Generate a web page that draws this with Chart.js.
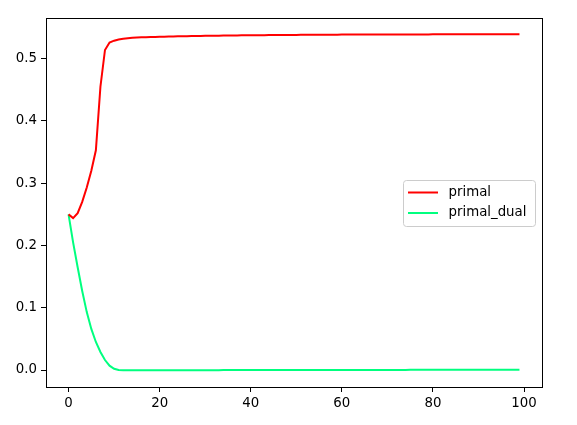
<!DOCTYPE html>
<html>
<head>
<meta charset="utf-8">
<script src="https://cdn.jsdelivr.net/npm/chart.js@4/dist/chart.umd.min.js"></script>
<style>
  body { margin: 0; background: #fff; }
  #wrap { width: 577px; height: 425px; }
</style>
</head>
<body>
<div id="wrap"><canvas id="chart" width="577" height="425"></canvas></div>
<script>
// values, one per step 0..99
const primal = [
    0.250, 0.244, 0.252, 0.270, 0.293, 0.320, 0.353, 0.455, 0.514, 0.526,
    0.529, 0.531, 0.532, 0.533, 0.5335, 0.5340, 0.5343, 0.5345, 0.5348, 0.5350,
    0.5352, 0.5354, 0.5356, 0.5357, 0.5359, 0.5360, 0.5362, 0.5363, 0.5364, 0.5365,
    0.5367, 0.5368, 0.5369, 0.5370, 0.5371, 0.5372, 0.5373, 0.5374, 0.5375, 0.5375,
    0.5376, 0.5377, 0.5378, 0.5378, 0.5379, 0.5380, 0.5380, 0.5381, 0.5381, 0.5382,
    0.5382, 0.5383, 0.5383, 0.5384, 0.5384, 0.5385, 0.5385, 0.5386, 0.5386, 0.5386,
    0.5387, 0.5387, 0.5387, 0.5388, 0.5388, 0.5388, 0.5389, 0.5389, 0.5389, 0.5389,
    0.5390, 0.5390, 0.5390, 0.5390, 0.5390, 0.5390, 0.5390, 0.5390, 0.5390, 0.5390,
    0.5391, 0.5391, 0.5391, 0.5391, 0.5391, 0.5391, 0.5391, 0.5391, 0.5391, 0.5391,
    0.5391, 0.5391, 0.5391, 0.5391, 0.5391, 0.5391, 0.5391, 0.5391, 0.5391, 0.5391
];
const primalDual = [
    0.250, 0.205, 0.165, 0.127, 0.093, 0.066, 0.045, 0.029, 0.016, 0.007,
    0.0020, 0.0000, -0.0004, -0.0004, -0.0004, -0.0004, -0.0004, -0.0004, -0.0004, -0.0004,
    -0.0004, -0.0004, -0.0003, -0.0003, -0.0003, -0.0003, -0.0003, -0.0003, -0.0002, -0.0002,
    -0.0002, -0.0002, -0.0002, -0.0002, -0.0001, -0.0001, -0.0001, -0.0001, -0.0001, -0.0001,
    -0.0001, -0.0001, -0.0001, 0.0000, 0.0000, 0.0000, 0.0000, 0.0000, 0.0000, 0.0000,
    0.0000, 0.0000, 0.0000, 0.0000, 0.0001, 0.0001, 0.0001, 0.0001, 0.0001, 0.0001,
    0.0001, 0.0001, 0.0001, 0.0001, 0.0002, 0.0002, 0.0002, 0.0002, 0.0002, 0.0002,
    0.0002, 0.0002, 0.0002, 0.0002, 0.0002, 0.0003, 0.0003, 0.0003, 0.0003, 0.0003,
    0.0003, 0.0003, 0.0003, 0.0003, 0.0003, 0.0004, 0.0004, 0.0004, 0.0004, 0.0004,
    0.0004, 0.0004, 0.0004, 0.0004, 0.0004, 0.0004, 0.0004, 0.0004, 0.0004, 0.0004
];
const seriesNames = ['primal', 'primal_dual'];
const xTicks = [0, 20, 40, 60, 80, 100];
const yTicks = [0.0, 0.1, 0.2, 0.3, 0.4, 0.5];

const steps = primal.map((_, i) => i);
const FONT = { family: 'DejaVu Sans', size: 13.33 };

// box around the axes, like matplotlib spines
const frame = {
    id: 'frame',
    afterDraw(chart) {
        const { ctx, chartArea: a } = chart;
        ctx.save();
        ctx.strokeStyle = '#000';
        ctx.lineWidth = 1;
        ctx.strokeRect(Math.round(a.left) + 0.5, Math.round(a.top) + 0.5,
            Math.round(a.right - a.left), Math.round(a.bottom - a.top));
        ctx.restore();
    }
};

// legend drawn inside the plot, center right
const innerLegend = {
    id: 'innerLegend',
    afterDraw(chart) {
        const { ctx, chartArea: a } = chart;
        const w = 132, h = 46;
        const x = Math.round(a.right - 7 - w) + 0.5;
        const y = Math.round((a.top + a.bottom) / 2 - h / 2) + 0.5;
        ctx.save();
        ctx.beginPath();
        ctx.roundRect(x, y, w, h, 3);
        ctx.fillStyle = 'rgba(255,255,255,0.8)';
        ctx.fill();
        ctx.strokeStyle = '#cccccc';
        ctx.lineWidth = 1;
        ctx.stroke();
        ctx.font = '13.33px "DejaVu Sans"';
        ctx.textBaseline = 'middle';
        chart.data.datasets.forEach((ds, i) => {
            const ly = y + 12 + i * 20.5;
            ctx.beginPath();
            ctx.moveTo(x + 4.5, ly);
            ctx.lineTo(x + 34.5, ly);
            ctx.strokeStyle = ds.borderColor;
            ctx.lineWidth = 2;
            ctx.stroke();
            ctx.fillStyle = '#000';
            ctx.fillText(ds.label, x + 45, ly);
        });
        ctx.restore();
    }
};

const axisCommon = {
    grid: { drawOnChartArea: false, drawTicks: true, tickLength: 5, tickColor: '#000' },
    border: { display: true, color: '#000', width: 1 },
    ticks: { color: '#000', font: FONT, padding: 4 }
};

new Chart(document.getElementById('chart'), {
    type: 'line',
    data: {
        datasets: [
            {
                label: seriesNames[0],
                data: steps.map((s, i) => ({ x: s, y: primal[i] })),
                borderColor: '#ff0000',
                borderWidth: 2,
                pointRadius: 0,
                tension: 0,
                fill: false
            },
            {
                label: seriesNames[1],
                data: steps.map((s, i) => ({ x: s, y: primalDual[i] })),
                borderColor: '#00ff7f',
                borderWidth: 2,
                pointRadius: 0,
                tension: 0,
                fill: false
            }
        ]
    },
    options: {
        responsive: false,
        animation: false,
        layout: { padding: { top: 18, right: 35, left: 0, bottom: 0 } },
        plugins: { legend: { display: false }, tooltip: { enabled: false } },
        scales: {
            x: {
                ...axisCommon,
                type: 'linear',
                min: -4.95,
                max: 103.95,
                afterBuildTicks: (s) => { s.ticks = xTicks.map(v => ({ value: v })); },
                afterFit: (s) => { s.height = 38; },
                ticks: { ...axisCommon.ticks, maxRotation: 0, callback: (v) => String(v) }
            },
            y: {
                ...axisCommon,
                min: -0.0273,
                max: 0.5654,
                afterBuildTicks: (s) => { s.ticks = yTicks.map(v => ({ value: v })); },
                afterFit: (s) => { s.width = 46; },
                ticks: { ...axisCommon.ticks, callback: (v) => v.toFixed(1) }
            }
        }
    },
    plugins: [frame, innerLegend]
});
</script>
</body>
</html>
